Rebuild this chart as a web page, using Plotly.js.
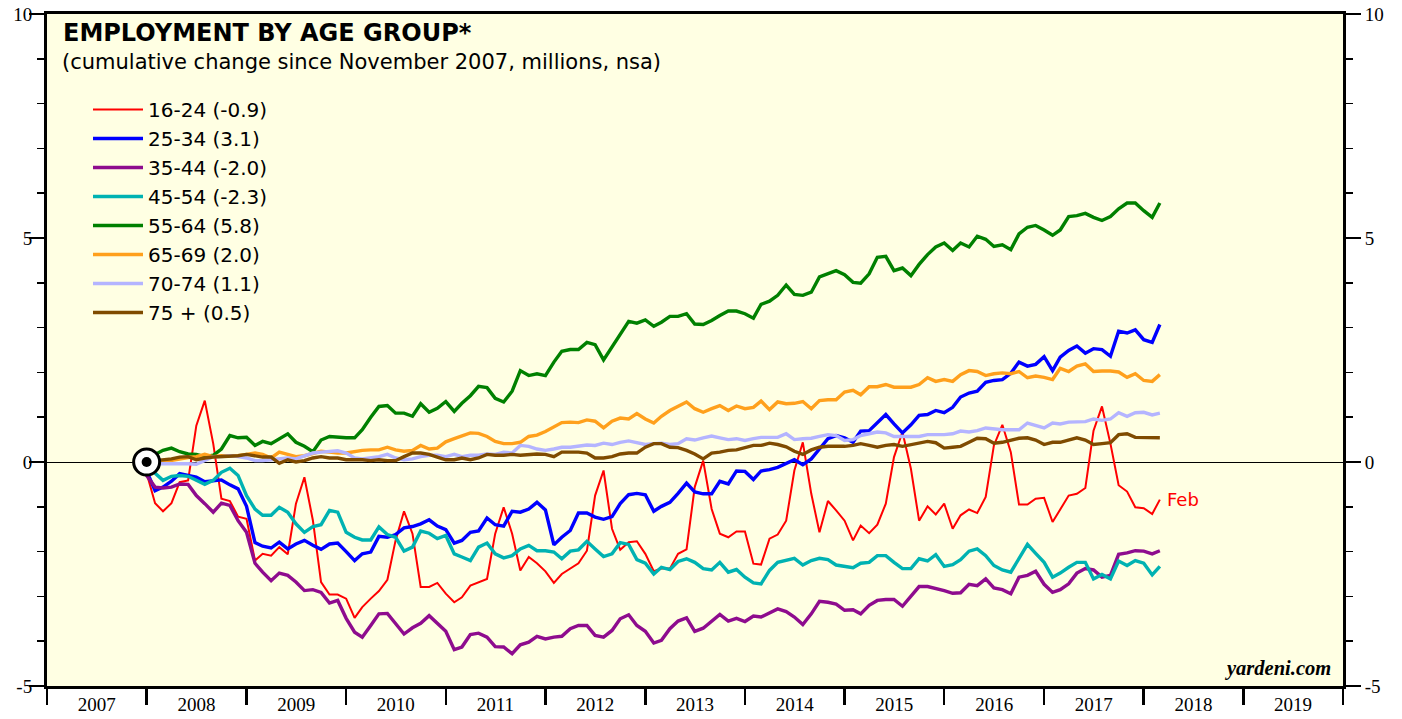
<!DOCTYPE html>
<html>
<head>
<meta charset="utf-8">
<script src="https://cdn.plot.ly/plotly-3.0.1.min.js"></script>
<style>
  html, body { margin: 0; padding: 0; background: #ffffff; }
  #chart { width: 1402px; height: 719px; }
</style>
</head>
<body>
<div id="chart"></div>
<script>
// ---- Data: cumulative change since November 2007, millions, nsa ----
// Monthly values, Nov 2007 .. Feb 2018 (rows: 2007 Nov-Dec, then Jan-Dec per year, 2018 Jan-Feb)
const FIRST_YEAR = 2007;
const FIRST_MONTH = 11; // November

const age16_24 = [
  0, -0.25,
  -0.92, -1.10, -0.92, -0.45, -0.41, 0.81, 1.37, 0.41, -0.82, -0.87, -1.22, -1.27,
  -2.20, -2.05, -2.09, -1.90, -2.06, -0.93, -0.34, -1.30, -2.68, -2.96, -2.96, -3.05,
  -3.48, -3.24, -3.05, -2.88, -2.63, -1.75, -1.10, -1.60, -2.79, -2.79, -2.70, -2.94,
  -3.13, -3.02, -2.76, -2.68, -2.61, -1.60, -1.01, -1.60, -2.42, -2.12, -2.26, -2.44,
  -2.70, -2.50, -2.38, -2.26, -1.98, -0.75, -0.19, -1.49, -1.96, -1.79, -1.77, -2.05,
  -2.44, -2.38, -2.38, -2.05, -1.95, -0.56, 0.03, -1.05, -1.60, -1.68, -1.55, -1.55,
  -2.27, -2.29, -1.71, -1.62, -1.31, -0.19, 0.44, -0.71, -1.57, -0.87, -1.08, -1.31,
  -1.75, -1.42, -1.59, -1.40, -0.93, 0.11, 0.67, -0.15, -1.31, -0.99, -1.17, -0.93,
  -1.49, -1.19, -1.06, -1.14, -0.78, 0.37, 0.83, 0.22, -0.95, -0.95, -0.82, -0.80,
  -1.34, -1.05, -0.75, -0.71, -0.58, 0.70, 1.24, 0.41, -0.52, -0.66, -1.01, -1.03,
  -1.16, -0.84
];
const age25_34 = [
  0, -0.20,
  -0.64, -0.56, -0.43, -0.26, -0.30, -0.34, -0.44, -0.41, -0.40, -0.51, -0.60, -0.99,
  -1.80, -1.88, -1.92, -1.79, -1.94, -1.83, -1.75, -1.86, -1.95, -1.83, -1.81, -2.00,
  -2.20, -2.05, -2.01, -1.66, -1.68, -1.62, -1.47, -1.44, -1.38, -1.29, -1.43, -1.51,
  -1.81, -1.75, -1.57, -1.54, -1.25, -1.40, -1.43, -1.10, -1.12, -1.05, -0.90, -1.07,
  -1.85, -1.68, -1.53, -1.14, -1.14, -1.23, -1.28, -1.22, -0.93, -0.73, -0.70, -0.73,
  -1.10, -0.99, -0.90, -0.70, -0.47, -0.67, -0.71, -0.71, -0.43, -0.49, -0.20, -0.21,
  -0.39, -0.20, -0.17, -0.12, -0.03, 0.05, -0.06, 0.07, 0.29, 0.52, 0.59, 0.54,
  0.44, 0.69, 0.70, 0.89, 1.06, 0.85, 0.65, 0.83, 1.04, 1.06, 1.15, 1.10,
  1.22, 1.45, 1.54, 1.58, 1.78, 1.82, 1.84, 1.98, 2.23, 2.14, 2.18, 2.35,
  2.04, 2.34, 2.49, 2.59, 2.43, 2.53, 2.51, 2.36, 2.92, 2.88, 2.95, 2.73,
  2.67, 3.07
];
const age35_44 = [
  0, -0.30,
  -0.56, -0.58, -0.56, -0.49, -0.50, -0.75, -0.93, -1.12, -0.92, -0.97, -1.31, -1.57,
  -2.26, -2.46, -2.65, -2.48, -2.53, -2.68, -2.87, -2.85, -2.91, -3.15, -3.09, -3.49,
  -3.80, -3.91, -3.65, -3.39, -3.38, -3.60, -3.84, -3.70, -3.60, -3.43, -3.60, -3.78,
  -4.19, -4.13, -3.85, -3.82, -3.91, -4.12, -4.13, -4.28, -4.08, -4.02, -3.89, -3.95,
  -3.91, -3.89, -3.72, -3.65, -3.65, -3.87, -3.91, -3.76, -3.50, -3.41, -3.65, -3.78,
  -4.04, -3.98, -3.72, -3.55, -3.48, -3.78, -3.71, -3.55, -3.40, -3.55, -3.49, -3.56,
  -3.44, -3.46, -3.37, -3.28, -3.34, -3.46, -3.63, -3.39, -3.11, -3.13, -3.17, -3.31,
  -3.30, -3.39, -3.20, -3.09, -3.07, -3.07, -3.22, -3.00, -2.78, -2.78, -2.82, -2.87,
  -2.93, -2.92, -2.73, -2.76, -2.61, -2.81, -2.85, -2.94, -2.57, -2.53, -2.44, -2.73,
  -2.91, -2.85, -2.72, -2.48, -2.38, -2.41, -2.57, -2.53, -2.06, -2.03, -1.98, -1.99,
  -2.05, -1.98
];
const age45_54 = [
  0, -0.15,
  -0.25, -0.41, -0.32, -0.30, -0.32, -0.40, -0.50, -0.41, -0.23, -0.14, -0.30, -0.75,
  -1.05, -1.19, -1.19, -1.01, -1.12, -1.38, -1.57, -1.44, -1.40, -1.08, -1.12, -1.57,
  -1.68, -1.74, -1.74, -1.45, -1.62, -1.68, -1.99, -1.90, -1.54, -1.59, -1.71, -1.64,
  -2.05, -2.12, -2.20, -1.90, -1.81, -2.05, -2.14, -2.09, -1.94, -1.86, -1.98, -1.98,
  -2.01, -2.16, -1.99, -1.96, -1.77, -1.94, -2.11, -2.05, -1.80, -1.84, -2.18, -2.26,
  -2.50, -2.35, -2.40, -2.22, -2.16, -2.24, -2.38, -2.41, -2.24, -2.46, -2.40, -2.57,
  -2.70, -2.72, -2.42, -2.24, -2.19, -2.15, -2.30, -2.20, -2.15, -2.18, -2.30, -2.33,
  -2.36, -2.26, -2.24, -2.09, -2.09, -2.24, -2.38, -2.38, -2.16, -2.21, -2.07, -2.33,
  -2.29, -2.18, -1.99, -1.94, -2.09, -2.31, -2.41, -2.46, -2.16, -1.84, -2.04, -2.24,
  -2.57, -2.48, -2.35, -2.24, -2.24, -2.61, -2.51, -2.61, -2.21, -2.31, -2.20, -2.26,
  -2.52, -2.33
];
const age55_64 = [
  0, 0.05,
  0.17, 0.26, 0.31, 0.23, 0.18, 0.17, 0.12, 0.15, 0.29, 0.59, 0.54, 0.55,
  0.37, 0.46, 0.41, 0.52, 0.63, 0.44, 0.35, 0.23, 0.49, 0.57, 0.55, 0.54,
  0.54, 0.72, 1.00, 1.24, 1.26, 1.09, 1.09, 1.02, 1.30, 1.11, 1.20, 1.35,
  1.13, 1.31, 1.48, 1.69, 1.66, 1.42, 1.34, 1.58, 2.04, 1.93, 1.97, 1.93,
  2.23, 2.47, 2.51, 2.51, 2.67, 2.62, 2.28, 2.56, 2.85, 3.14, 3.10, 3.17,
  3.03, 3.12, 3.25, 3.25, 3.31, 3.08, 3.07, 3.16, 3.27, 3.37, 3.37, 3.31,
  3.21, 3.52, 3.59, 3.72, 3.95, 3.74, 3.72, 3.79, 4.13, 4.21, 4.27, 4.18,
  4.01, 3.99, 4.20, 4.57, 4.59, 4.27, 4.33, 4.16, 4.41, 4.63, 4.80, 4.89,
  4.72, 4.89, 4.80, 5.04, 4.97, 4.81, 4.85, 4.74, 5.09, 5.24, 5.28, 5.18,
  5.06, 5.18, 5.48, 5.50, 5.55, 5.46, 5.39, 5.48, 5.65, 5.78, 5.78, 5.61,
  5.46, 5.78
];
const age65_69 = [
  0, 0.00,
  -0.03, 0.00, 0.05, 0.07, 0.10, 0.12, 0.17, 0.12, 0.14, 0.14, 0.14, 0.17,
  0.20, 0.17, 0.09, 0.22, 0.17, 0.12, 0.14, 0.20, 0.24, 0.22, 0.20, 0.20,
  0.24, 0.26, 0.27, 0.27, 0.33, 0.27, 0.24, 0.26, 0.37, 0.29, 0.31, 0.45,
  0.52, 0.59, 0.65, 0.64, 0.57, 0.46, 0.41, 0.41, 0.44, 0.57, 0.60, 0.68,
  0.78, 0.88, 0.89, 0.88, 0.94, 0.91, 0.76, 0.91, 0.98, 0.96, 1.08, 0.96,
  0.87, 1.02, 1.15, 1.24, 1.34, 1.19, 1.11, 1.19, 1.26, 1.15, 1.25, 1.19,
  1.22, 1.36, 1.17, 1.34, 1.30, 1.31, 1.35, 1.19, 1.37, 1.39, 1.39, 1.56,
  1.60, 1.50, 1.68, 1.68, 1.73, 1.67, 1.67, 1.67, 1.73, 1.88, 1.80, 1.84,
  1.80, 1.95, 2.04, 2.02, 1.93, 1.97, 1.99, 1.97, 2.02, 1.88, 1.92, 1.89,
  1.84, 2.09, 2.02, 2.14, 2.19, 2.02, 2.03, 2.03, 2.01, 1.89, 1.97, 1.82,
  1.80, 1.95
];
const age70_74 = [
  0, -0.03,
  -0.04, -0.04, -0.03, -0.03, -0.04, -0.05, 0.03, 0.12, 0.12, 0.14, 0.12, 0.09,
  0.03, 0.03, 0.05, 0.07, 0.09, 0.07, 0.14, 0.20, 0.22, 0.23, 0.25, 0.20,
  0.09, 0.07, 0.09, 0.12, 0.17, 0.09, 0.05, 0.07, 0.12, 0.15, 0.15, 0.12,
  0.17, 0.12, 0.15, 0.15, 0.18, 0.17, 0.22, 0.20, 0.37, 0.35, 0.29, 0.26,
  0.29, 0.33, 0.33, 0.35, 0.38, 0.37, 0.42, 0.39, 0.44, 0.47, 0.44, 0.39,
  0.41, 0.42, 0.39, 0.41, 0.52, 0.49, 0.54, 0.58, 0.54, 0.50, 0.52, 0.48,
  0.52, 0.55, 0.55, 0.55, 0.63, 0.50, 0.52, 0.53, 0.57, 0.61, 0.59, 0.48,
  0.50, 0.59, 0.63, 0.67, 0.65, 0.57, 0.57, 0.57, 0.57, 0.61, 0.61, 0.61,
  0.63, 0.69, 0.67, 0.70, 0.76, 0.74, 0.72, 0.72, 0.72, 0.87, 0.81, 0.76,
  0.87, 0.85, 0.89, 0.90, 0.90, 0.96, 0.93, 0.96, 1.10, 1.02, 1.10, 1.11,
  1.05, 1.09
];
const age75plus = [
  0, 0.00,
  0.03, 0.05, 0.07, 0.11, 0.12, 0.05, 0.09, 0.11, 0.12, 0.12, 0.14, 0.17,
  0.14, 0.11, 0.11, -0.03, 0.05, 0.00, 0.03, 0.09, 0.12, 0.09, 0.09, 0.05,
  0.05, 0.05, 0.03, 0.05, 0.03, 0.03, 0.12, 0.20, 0.20, 0.17, 0.11, 0.05,
  0.05, 0.09, 0.05, 0.09, 0.17, 0.15, 0.15, 0.17, 0.15, 0.17, 0.18, 0.17,
  0.12, 0.22, 0.22, 0.22, 0.20, 0.09, 0.09, 0.12, 0.18, 0.20, 0.20, 0.33,
  0.41, 0.41, 0.33, 0.32, 0.26, 0.18, 0.07, 0.20, 0.22, 0.26, 0.27, 0.33,
  0.37, 0.37, 0.42, 0.39, 0.34, 0.24, 0.17, 0.27, 0.33, 0.35, 0.35, 0.35,
  0.37, 0.41, 0.37, 0.33, 0.37, 0.39, 0.35, 0.39, 0.42, 0.46, 0.43, 0.31,
  0.33, 0.35, 0.44, 0.53, 0.52, 0.42, 0.44, 0.49, 0.53, 0.54, 0.49, 0.39,
  0.44, 0.44, 0.49, 0.54, 0.49, 0.39, 0.41, 0.43, 0.61, 0.63, 0.55, 0.55,
  0.54, 0.54
];

const seriesNames = ['16-24 (-0.9)', '25-34 (3.1)', '35-44 (-2.0)', '45-54 (-2.3)',
                     '55-64 (5.8)', '65-69 (2.0)', '70-74 (1.1)', '75 + (0.5)'];
const seriesValues = [age16_24, age25_34, age35_44, age45_54, age55_64, age65_69, age70_74, age75plus];
const seriesColors = ['#FF0000', '#0000FF', '#8E0C8E', '#00B2B2', '#008000', '#FFA01C', '#B4B4FF', '#7F4B00'];
const seriesWidths = [2, 3.4, 3.4, 3.4, 3.4, 3.4, 3.4, 3.4];

const yearLabels = ['2007','2008','2009','2010','2011','2012','2013','2014','2015','2016','2017','2018','2019'];
const yTickVals = [-5, 0, 5, 10];
const lastMonthLabel = 'Feb';
const baseMarkDate = '2008-01-01'; // benchmark marker (November 2007 = 0)

// Each monthly value is plotted at its period end (first day of the following month)
function periodEnd(i) {
  const d = new Date(Date.UTC(FIRST_YEAR, FIRST_MONTH + i, 1));
  return d.toISOString().slice(0, 10);
}
const dates = age16_24.map((_, i) => periodEnd(i));

const traces = seriesValues.map((vals, k) => ({
  type: 'scatter', mode: 'lines', x: dates, y: vals, name: seriesNames[k],
  line: { color: seriesColors[k], width: seriesWidths[k] }, hoverinfo: 'skip'
}));
// benchmark marker, drawn on the right-hand axis (same scale) so that axis is rendered
traces.push({
  type: 'scatter', mode: 'markers', x: [baseMarkDate], y: [0], yaxis: 'y2', showlegend: false, hoverinfo: 'skip',
  marker: { size: 26, color: '#ffffff', line: { color: '#000000', width: 3 } }
});
traces.push({
  type: 'scatter', mode: 'markers', x: [baseMarkDate], y: [0], yaxis: 'y2', showlegend: false, hoverinfo: 'skip',
  marker: { size: 10, color: '#000000', line: { width: 0 } }
});

const yearStarts = yearLabels.map(y => y + '-01-01').concat(['2020-01-01']);
const yearMids = yearLabels.map(y => y + '-07-02');

const serif = { family: 'Liberation Serif, Times New Roman, serif', size: 19, color: '#000000' };
const sans = 'DejaVu Sans, Arial, sans-serif';

const yAxisCommon = {
  range: [-5, 10], tickmode: 'array', tickvals: yTickVals, ticktext: yTickVals.map(String),
  ticks: 'outside', ticklen: 15, tickwidth: 1.5, tickcolor: '#000000',
  minor: { tickmode: 'linear', tick0: 0, dtick: 1, ticks: 'outside', ticklen: 7, tickwidth: 1.5, tickcolor: '#000000', showgrid: false },
  showline: true, linewidth: 3, linecolor: '#000000', showgrid: false,
  tickfont: serif, fixedrange: true
};

const last = age16_24.length - 1;

const layout = {
  width: 1402, height: 719, autosize: false,
  margin: { l: 47, r: 59, t: 14, b: 33, pad: 0 },
  paper_bgcolor: '#ffffff', plot_bgcolor: '#FFFFE3',
  showlegend: true, hovermode: false,
  title: {
    text: '<b>EMPLOYMENT BY AGE GROUP*</b>',
    font: { family: sans, size: 24, color: '#000000' },
    xref: 'container', x: 63 / 1402, xanchor: 'left',
    yref: 'container', y: 1 - 33 / 719, yanchor: 'middle', pad: { t: 0, b: 0, l: 0, r: 0 }
  },
  xaxis: {
    type: 'date', range: ['2007-01-01', '2020-01-01'],
    tickmode: 'array', tickvals: yearMids, ticktext: yearLabels, ticks: '',
    minor: { tickmode: 'array', tickvals: yearStarts, ticks: 'outside', ticklen: 16, tickwidth: 2.5, tickcolor: '#000000', showgrid: false },
    showline: true, linewidth: 3, linecolor: '#000000', mirror: true,
    showgrid: false, zeroline: false, tickfont: serif, ticklabelstandoff: -1, fixedrange: true
  },
  yaxis: Object.assign({}, yAxisCommon, {
    side: 'left', mirror: true, zeroline: true, zerolinecolor: '#000000', zerolinewidth: 1,
    ticklabelstandoff: -7
  }),
  yaxis2: Object.assign({}, yAxisCommon, {
    side: 'right', overlaying: 'y', anchor: 'x', zeroline: false
  }),
  legend: {
    x: (88 - 47) / 1296, xanchor: 'left', y: (686 - 90) / 672, yanchor: 'top',
    bgcolor: 'rgba(0,0,0,0)', borderwidth: 0, itemwidth: 50, tracegroupgap: 0,
    font: { family: sans, size: 20, color: '#000000' }
  },
  annotations: [
    {
      text: '(cumulative change since November 2007, millions, nsa)',
      xref: 'paper', x: (60 - 47) / 1296, xanchor: 'left',
      yref: 'paper', y: (686 - 62) / 672, yanchor: 'middle',
      showarrow: false, font: { family: sans, size: 21, color: '#000000' }
    },
    {
      text: lastMonthLabel, xref: 'x', x: dates[last], yref: 'y', y: age16_24[last],
      xanchor: 'left', yanchor: 'middle', xshift: 5, showarrow: false,
      font: { family: sans, size: 18, color: '#FF0000' }
    },
    {
      text: '<b><i>yardeni.com</i></b>', xref: 'paper', x: 1, xanchor: 'right', xshift: -10,
      yref: 'paper', y: 0, yanchor: 'bottom', yshift: 4, showarrow: false,
      font: { family: 'Liberation Serif, Times New Roman, serif', size: 20.5, color: '#000000' }
    }
  ]
};

Plotly.newPlot('chart', traces, layout, { staticPlot: true, displayModeBar: false });
</script>
</body>
</html>
